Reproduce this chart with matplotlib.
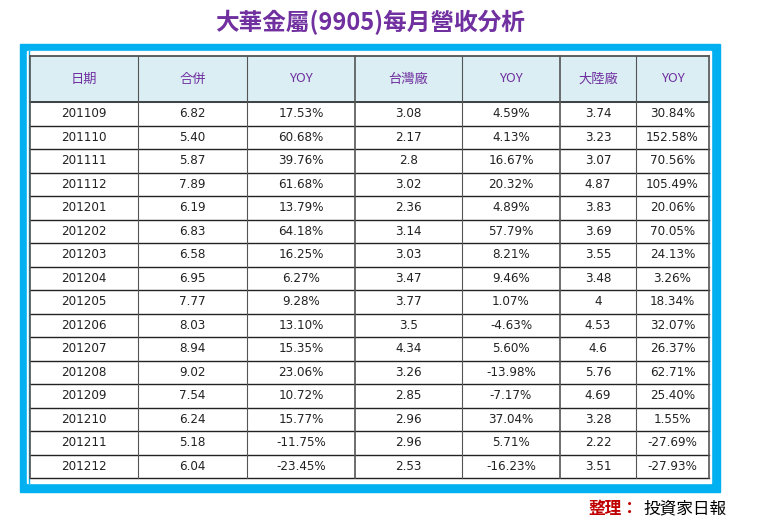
import matplotlib

matplotlib.use("Agg")
import matplotlib.pyplot as plt
from matplotlib.patches import Rectangle

# table data
headers = ["日期", "合併", "YOY", "台灣廠", "YOY", "大陸廠", "YOY"]
dates = ["201109", "201110", "201111", "201112", "201201", "201202", "201203", "201204",
         "201205", "201206", "201207", "201208", "201209", "201210", "201211", "201212"]
total = ["6.82", "5.40", "5.87", "7.89", "6.19", "6.83", "6.58", "6.95",
         "7.77", "8.03", "8.94", "9.02", "7.54", "6.24", "5.18", "6.04"]
total_yoy = ["17.53%", "60.68%", "39.76%", "61.68%", "13.79%", "64.18%", "16.25%", "6.27%",
             "9.28%", "13.10%", "15.35%", "23.06%", "10.72%", "15.77%", "-11.75%", "-23.45%"]
taiwan = ["3.08", "2.17", "2.8", "3.02", "2.36", "3.14", "3.03", "3.47",
          "3.77", "3.5", "4.34", "3.26", "2.85", "2.96", "2.96", "2.53"]
taiwan_yoy = ["4.59%", "4.13%", "16.67%", "20.32%", "4.89%", "57.79%", "8.21%", "9.46%",
              "1.07%", "-4.63%", "5.60%", "-13.98%", "-7.17%", "37.04%", "5.71%", "-16.23%"]
china = ["3.74", "3.23", "3.07", "4.87", "3.83", "3.69", "3.55", "3.48",
         "4", "4.53", "4.6", "5.76", "4.69", "3.28", "2.22", "3.51"]
china_yoy = ["30.84%", "152.58%", "70.56%", "105.49%", "20.06%", "70.05%", "24.13%", "3.26%",
             "18.34%", "32.07%", "26.37%", "62.71%", "25.40%", "1.55%", "-27.69%", "-27.93%"]

columns = [dates, total, total_yoy, taiwan, taiwan_yoy, china, china_yoy]
col_edges = [30, 138, 247, 355, 462, 560, 636, 709]
top, head_h, row_h = 56, 46, 23.5

CJK = ["Noto Sans CJK TC", "Noto Sans CJK JP", "Noto Sans CJK SC", "DejaVu Sans"]
fig = plt.figure(figsize=(7.57, 5.26), dpi=100)
ax = fig.add_axes([0, 0, 1, 1])
ax.set_xlim(0, 757)
ax.set_ylim(526, 0)
ax.axis("off")

ax.text(370, 22, "大華金屬(9905)每月營收分析", ha="center", va="center",
        fontsize=17, color="#7030a0", fontweight="bold", family=CJK)

# blue frame
ax.add_patch(Rectangle((20, 44), 700, 448, color="#00b0f0"))
ax.add_patch(Rectangle((27, 51), 684, 432, color="white"))
ax.plot([29, 29], [51, 483], color="#00b0f0", lw=1)

# header
bottom = top + head_h + row_h * len(dates)
ax.add_patch(Rectangle((col_edges[0], top), col_edges[-1] - col_edges[0], head_h,
                       color="#daeef3"))
for i, h in enumerate(headers):
    xc = (col_edges[i] + col_edges[i + 1]) / 2
    ax.text(xc, top + head_h / 2, h, ha="center", va="center", fontsize=9.5,
            color="#7030a0", family=CJK)

for j in range(len(dates)):
    yc = top + head_h + row_h * (j + 0.5)
    for i, col in enumerate(columns):
        xc = (col_edges[i] + col_edges[i + 1]) / 2
        ax.text(xc, yc, col[j], ha="center", va="center", fontsize=9.5,
                color="#222222", family="DejaVu Sans", fontstretch="condensed")

# grid lines
ax.plot([col_edges[0], col_edges[-1]], [top, top], color="#444444", lw=1.2)
ax.plot([col_edges[0], col_edges[-1]], [top + head_h, top + head_h], color="#222222", lw=1.2)
for j in range(1, len(dates) + 1):
    y = top + head_h + row_h * j
    ax.plot([col_edges[0], col_edges[-1]], [y, y], color="#222222", lw=1)
for i, x in enumerate(col_edges):
    lw = 1.2 if i in (0, 3, 5, 7) else 0.8
    ax.plot([x, x], [top, bottom], color="#555555", lw=lw)

ax.text(588, 509, "整理：", ha="left", va="center", fontsize=12, color="#c00000",
        fontweight="bold", family=CJK)
ax.text(643, 509, "投資家日報", ha="left", va="center", fontsize=12, color="black",
        family=CJK)

fig.savefig("out.png", dpi=100)
